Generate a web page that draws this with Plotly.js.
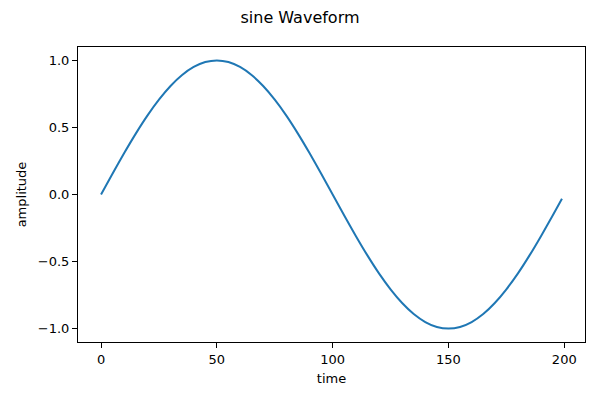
<!DOCTYPE html>
<html>
<head>
<meta charset="utf-8">
<script src="https://cdn.plot.ly/plotly-3.0.1.min.js"></script>
<style>html,body{margin:0;padding:0;background:#fff;}#chart{width:600px;height:400px;}</style>
</head>
<body>
<div id="chart"></div>
<script>
const time = [0,5,10,15,20,25,30,35,40,45,50,55,60,65,70,75,80,85,90,95,100,105,110,115,120,125,130,135,140,145,150,155,160,165,170,175,180,185,190,195,199];
const amplitude = [0,0.156,0.309,0.454,0.588,0.707,0.809,0.891,0.951,0.988,1.0,0.988,0.951,0.891,0.809,0.707,0.588,0.454,0.309,0.156,0,-0.156,-0.309,-0.454,-0.588,-0.707,-0.809,-0.891,-0.951,-0.988,-1.0,-0.988,-0.951,-0.891,-0.809,-0.707,-0.588,-0.454,-0.309,-0.156,-0.031];
const xTicks = [0,50,100,150,200];
const yTicks = [-1,-0.5,0,0.5,1];

const font = {family: 'DejaVu Sans', size: 13, color: '#000'};
Plotly.newPlot('chart', [{
  x: time, y: amplitude, type: 'scatter', mode: 'lines',
  line: {color: '#1f77b4', width: 2, shape: 'spline', smoothing: 0.6}
}], {
  width: 600, height: 400,
  margin: {l: 78, r: 15, t: 47, b: 58},
  paper_bgcolor: '#fff', plot_bgcolor: '#fff',
  font: font,
  showlegend: false,
  title: {text: 'sine Waveform', font: {family: 'DejaVu Sans', size: 16, color: '#000'}, x: 0.5, xanchor: 'center', y: 1 - 17/400, yref: 'container', yanchor: 'middle'},
  xaxis: {
    range: [-9.95, 208.95], tickvals: xTicks, ticktext: xTicks.map(String),
    showgrid: false, zeroline: false, showline: true, mirror: true, linecolor: '#000', linewidth: 1,
    ticks: 'outside', ticklen: 5, tickcolor: '#000', tickfont: font,
    title: {text: 'time', font: font, standoff: 8}
  },
  yaxis: {
    range: [-1.1, 1.1], tickvals: yTicks, ticktext: yTicks.map(v => v.toFixed(1).replace('-', '\u2212')),
    showgrid: false, zeroline: false, showline: true, mirror: true, linecolor: '#000', linewidth: 1,
    ticks: 'outside', ticklen: 5, tickcolor: '#000', tickfont: font,
    title: {text: 'amplitude', font: font, standoff: 8}
  }
}, {displayModeBar: false, staticPlot: true});
</script>
</body>
</html>
